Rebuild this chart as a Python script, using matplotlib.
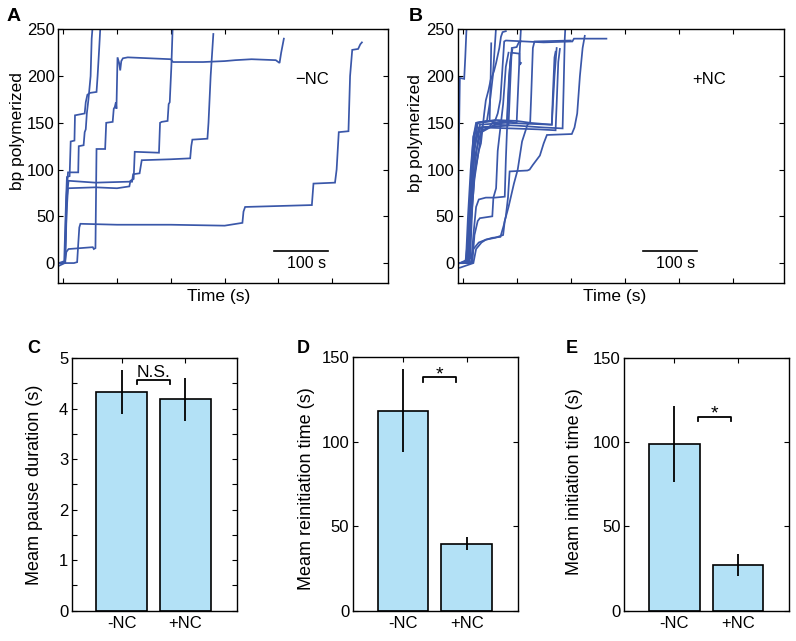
import matplotlib
matplotlib.use('Agg')
import matplotlib.pyplot as plt

plt.rcParams['font.family'] = ['Liberation Sans', 'DejaVu Sans']

# ---------------- data ----------------
# Panel A (-NC) traces: time (s) and bp polymerized
A_t1 = [-8, 2, 5, 7, 12, 14, 21, 22, 40, 42, 45, 50, 62, 64, 67, 70]
A_bp1 = [0, 2, 60, 92, 93, 130, 131, 158, 160, 172, 180, 182, 183, 200, 230, 262]
A_t2 = [-8, 3, 6, 9, 28, 29, 38, 40, 42, 44, 47, 51, 53, 56]
A_bp2 = [-3, 0, 70, 97, 97, 125, 126, 140, 143, 160, 175, 200, 240, 262]
A_t3 = [-5, 3, 6, 10, 55, 57, 60, 62, 78, 80, 92, 94, 96, 98, 99, 101, 104, 106, 108, 111, 120, 160,
        200, 204, 260, 300, 320, 350, 395, 402, 405, 410]
A_bp3 = [0, 0, 12, 15, 17, 15, 16, 122, 122, 150, 151, 165, 167, 172, 165, 220, 214, 206, 216, 219, 220, 219,
         218, 215, 215, 216, 217, 218, 217, 214, 225, 240]
A_t4 = [-5, 3, 6, 9, 60, 100, 123, 125, 131, 133, 178, 180, 183, 194, 196, 198, 201, 204]
A_bp4 = [0, 0, 50, 80, 81, 80, 82, 88, 90, 119, 118, 150, 151, 152, 170, 172, 210, 262]
A_t5 = [-6, 4, 7, 10, 60, 120, 128, 130, 142, 146, 200, 236, 238, 240, 268, 270, 274, 279]
A_bp5 = [0, 0, 70, 88, 86, 87, 87, 95, 96, 110, 111, 112, 125, 132, 133, 150, 200, 245]
A_t6 = [-5, 20, 26, 28, 30, 32, 100, 200, 300, 333, 335, 338, 460, 462, 465, 505, 508, 512, 530, 533,
        537, 548, 552, 555]
A_bp6 = [0, 0, 1, 20, 38, 42, 41, 41, 40, 43, 55, 60, 62, 62, 85, 86, 100, 140, 141, 200,
         228, 229, 234, 236]
traces_A = [(A_t1, A_bp1), (A_t2, A_bp2), (A_t3, A_bp3), (A_t4, A_bp4), (A_t5, A_bp5), (A_t6, A_bp6)]

# Panel B (+NC) traces
B_t1 = [-9, -7, -5, 3, 5, 7, 9]
B_bp1 = [30, 120, 198, 197, 220, 247, 262]
B_t2 = [-5, 5, 10, 15, 22, 30, 34, 40, 43, 48, 52, 58, 62, 68, 71, 74, 80]
B_bp2 = [0, 0, 25, 60, 95, 120, 128, 160, 174, 185, 196, 205, 214, 230, 242, 247, 248]
B_t3 = [-5, 8, 12, 16, 20, 26, 30, 50, 52, 53]
B_bp3 = [0, 2, 40, 100, 135, 148, 150, 152, 200, 235]
B_t4 = [-5, 15, 20, 30, 43, 55, 70, 76, 80, 84, 87, 120, 124, 130, 143, 150, 156, 202, 207, 212, 217,
        222, 226]
B_bp4 = [0, 0, 15, 22, 25, 27, 28, 40, 50, 70, 98, 99, 100, 105, 115, 128, 137, 138, 145, 160, 200,
         230, 243]
B_t5 = [-5, 12, 16, 22, 28, 60, 65, 70, 77, 80, 150, 203, 206, 266]
B_bp5 = [0, 0, 60, 120, 150, 152, 160, 175, 237, 238, 236, 237, 240, 240]
B_t6 = [-5, 10, 15, 22, 35, 60, 100, 150, 185, 187, 189, 191]
B_bp6 = [0, 0, 40, 90, 140, 148, 147, 145, 144, 190, 240, 262]
B_t7 = [-5, 14, 18, 24, 32, 80, 120, 165, 167, 170, 172]
B_bp7 = [0, 5, 60, 110, 148, 150, 149, 148, 180, 220, 226]
B_t8 = [-5, 12, 16, 21, 36, 90, 140, 172, 174, 177, 180]
B_bp8 = [0, 0, 50, 110, 145, 144, 143, 142, 170, 215, 229]
B_t9 = [-5, 10, 14, 20, 26, 60, 100, 125, 127, 130, 133, 200]
B_bp9 = [0, 0, 60, 125, 150, 153, 152, 150, 180, 230, 237, 238]
B_t10 = [-5, 9, 13, 18, 30, 50, 55, 80, 100, 103, 106, 109]
B_bp10 = [0, 0, 55, 110, 145, 146, 150, 152, 150, 190, 230, 262]
B_t11 = [-5, 16, 20, 25, 30, 43, 60, 78, 80, 84, 88, 92]
B_bp11 = [0, 0, 30, 60, 68, 70, 70, 71, 110, 170, 215, 228]
B_t12 = [-5, 18, 22, 28, 32, 55, 57, 62, 65, 75, 80, 85]
B_bp12 = [0, 0, 30, 45, 48, 50, 70, 80, 120, 170, 210, 225]
B_t13 = [-5, 12, 16, 22, 30, 40, 70, 82, 86, 90, 105, 106, 108]
B_bp13 = [0, 0, 70, 130, 140, 143, 150, 152, 200, 225, 224, 212, 214]
B_t14 = [-5, 20, 25, 35, 43, 60, 75, 78, 85, 95, 102, 110, 120, 124, 165, 170, 174]
B_bp14 = [-5, 0, 15, 22, 25, 27, 30, 45, 60, 85, 100, 130, 148, 150, 148, 200, 230]
B_t15 = [-5, 6, 10, 15, 20, 25, 45, 50, 56, 60, 63]
B_bp15 = [0, 0, 50, 100, 135, 150, 152, 170, 200, 235, 262]
B_t16 = [-5, 8, 12, 20, 28, 35, 85, 88, 91, 100, 104, 108]
B_bp16 = [0, 0, 40, 120, 140, 145, 147, 190, 230, 231, 236, 237]
traces_B = [(B_t1, B_bp1), (B_t2, B_bp2), (B_t3, B_bp3), (B_t4, B_bp4), (B_t5, B_bp5),
            (B_t6, B_bp6), (B_t7, B_bp7), (B_t8, B_bp8), (B_t9, B_bp9), (B_t10, B_bp10),
            (B_t11, B_bp11), (B_t12, B_bp12), (B_t13, B_bp13), (B_t14, B_bp14),
            (B_t15, B_bp15), (B_t16, B_bp16)]

trace_yticks = [0, 50, 100, 150, 200, 250]
trace_xticks = [0, 100, 200, 300, 400, 500]

groups = ['-NC', '+NC']
pause_mean = [4.33, 4.18]
pause_err = [0.43, 0.43]
reinit_mean = [118.3, 39.6]
reinit_err = [24.6, 4.0]
init_mean = [99.0, 27.2]
init_err = [22.7, 6.7]

pause_yticks = [0, 0.5, 1, 1.5, 2, 2.5, 3, 3.5, 4, 4.5, 5]
pause_yticklabels = ['0', '', '1', '', '2', '', '3', '', '4', '', '5']
time_yticks = [0, 50, 100, 150]
time_yticklabels = ['0', '50', '100', '150']

scale_len = 100
scaleA_x0 = 392
scaleB_x0 = 333
scale_y = 13

# ---------------- style ----------------
LINE_C = '#3a57a9'
BAR_C = '#b3e1f6'
TICK_FS = 12
LAB_FS = 12.5

fig = plt.figure(figsize=(7.96, 6.41), dpi=100)
W, H = 796, 641


def ax_px(l, t, r, b):
    return fig.add_axes([l / W, 1 - b / H, (r - l) / W, (b - t) / H])


def style(ax):
    ax.tick_params(direction='in', length=3.5, width=0.8, top=True, right=True,
                   labelsize=TICK_FS, pad=2.5)
    for s in ax.spines.values():
        s.set_linewidth(1.0)


def trace_panel(ax, traces, x0, xlim, label):
    for t, bp in traces:
        ax.plot(t, bp, color=LINE_C, lw=1.25, solid_joinstyle='miter')
    ax.set_xlim(*xlim)
    ax.set_ylim(-21, 250)
    ax.set_xticks(trace_xticks)
    ax.set_xticklabels([])
    ax.set_yticks(trace_yticks)
    style(ax)
    ax.plot([x0, x0 + scale_len], [scale_y, scale_y], color='black', lw=1.2)
    ax.text(x0 + scale_len / 2 + 10, scale_y - 5, '100 s', ha='center', va='top', fontsize=11.5)
    ax.text(0.77, 0.80, label, transform=ax.transAxes, ha='center', va='center', fontsize=12)
    ax.set_xlabel('Time (s)', fontsize=LAB_FS)
    ax.set_ylabel('bp polymerized', fontsize=LAB_FS)


axA = ax_px(58.3, 29.3, 388.3, 282.7)
trace_panel(axA, traces_A, scaleA_x0, (-9, 604), '\u2212NC')
axA.xaxis.set_label_coords(0.487, -0.025)
axA.yaxis.set_label_coords(-0.10, 0.6)

axB = ax_px(457.7, 29.3, 784.3, 282.7)
trace_panel(axB, traces_B, scaleB_x0, (-9, 595), '+NC')
axB.xaxis.set_label_coords(0.48, -0.025)
axB.yaxis.set_label_coords(-0.105, 0.59)


def bar_panel(ax, means, errs, ylim, yticks, yticklabels, ylabel, br_x, br_y, br_drop, mark, mark_y, mark_fs):
    xs = [1, 2]
    ax.bar(xs, means, width=0.8, color=BAR_C, edgecolor='black', linewidth=1.2, zorder=2)
    ax.errorbar(xs, means, yerr=errs, fmt='none', ecolor='black', elinewidth=1.3, capsize=0, zorder=3)
    ax.plot([br_x[0], br_x[0], br_x[1], br_x[1]],
            [br_y - br_drop, br_y, br_y, br_y - br_drop], color='black', lw=1.3)
    ax.text((br_x[0] + br_x[1]) / 2, mark_y, mark, ha='center', va='baseline', fontsize=mark_fs)
    ax.set_xlim(0.21, 2.81)
    ax.set_ylim(*ylim)
    ax.set_xticks(xs)
    ax.set_xticklabels(groups, fontsize=13)
    ax.set_yticks(yticks)
    ax.set_yticklabels(yticklabels)
    style(ax)
    ax.tick_params(axis='x', pad=3.5)
    ax.set_ylabel(ylabel, fontsize=13)


axC = ax_px(71.7, 358, 236.7, 610.7)
bar_panel(axC, pause_mean, pause_err, (0, 5), pause_yticks, pause_yticklabels,
          'Meam pause duration (s)', (1.24, 1.76), 4.56, 0.08, 'N.S.', 4.63, 12.5)
axC.yaxis.set_label_coords(-0.175, 0.5)

axD = ax_px(352.7, 357, 518.3, 610.7)
bar_panel(axD, reinit_mean, reinit_err, (0, 150), time_yticks, time_yticklabels,
          'Meam reinitiation time (s)', (1.31, 1.83), 138, 2.5, '*', 136.5, 14)
axD.yaxis.set_label_coords(-0.23, 0.48)

axE = ax_px(624.3, 358, 789.3, 610.7)
bar_panel(axE, init_mean, init_err, (0, 150), time_yticks, time_yticklabels,
          'Meam initiation time (s)', (1.37, 1.89), 115.2, 2.5, '*', 114, 14)
axE.yaxis.set_label_coords(-0.25, 0.51)

# panel letters
fig.text(7 / W, 1 - 8 / H, 'A', fontsize=14, fontweight='bold', ha='left', va='top')
fig.text(409 / W, 1 - 8 / H, 'B', fontsize=14, fontweight='bold', ha='left', va='top')
fig.text(27 / W, 1 - 340 / H, 'C', fontsize=13, fontweight='bold', ha='left', va='top')
fig.text(297 / W, 1 - 340 / H, 'D', fontsize=13, fontweight='bold', ha='left', va='top')
fig.text(566 / W, 1 - 340 / H, 'E', fontsize=13, fontweight='bold', ha='left', va='top')

fig.savefig('out.png', dpi=100)
